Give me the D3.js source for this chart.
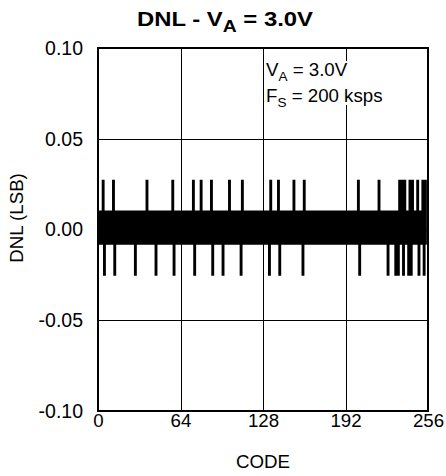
<!DOCTYPE html>
<html>
<head>
<meta charset="utf-8">
<script src="https://cdn.jsdelivr.net/npm/d3@7"></script>
<style>
  html, body { margin: 0; padding: 0; background: #fff; }
  svg { display: block; font-family: "Liberation Sans", Arial, sans-serif; }
</style>
</head>
<body>
<svg id="chart" width="446" height="476"></svg>
<script>
// ---- data ----
const xTicks = [0, 64, 128, 192, 256];
const xTickLabels = ["0", "64", "128", "192", "256"];
const yTicks = [0.10, 0.05, 0.00, -0.05, -0.10];
const yTickLabels = ["0.10", "0.05", "0.00", "-0.05", "-0.10"];
// DNL (LSB) for codes 0..255
const dnl = [
  0.010,-0.008, 0.010,-0.008, 0.027,-0.025, 0.010,-0.008, 0.010,-0.008, 0.010,-0.008, 0.027,-0.025, 0.010,-0.008,
  0.010,-0.008, 0.010,-0.008, 0.010,-0.008, 0.010,-0.008, 0.010,-0.008, 0.010,-0.008, 0.010,-0.025, 0.010,-0.008,
  0.010,-0.008, 0.010,-0.008, 0.010,-0.008, 0.027,-0.008, 0.010,-0.008, 0.010,-0.008, 0.010,-0.025, 0.010,-0.008,
  0.010,-0.008, 0.010,-0.008, 0.010,-0.008, 0.010,-0.008, 0.010,-0.008, 0.027,-0.025, 0.010,-0.008, 0.010,-0.008,
  0.010,-0.008, 0.010,-0.008, 0.010,-0.008, 0.010,-0.008, 0.010,-0.008, 0.027,-0.025, 0.010,-0.008, 0.010,-0.008,
  0.027,-0.008, 0.010,-0.008, 0.010,-0.008, 0.010,-0.008, 0.027,-0.025, 0.010,-0.008, 0.010,-0.008, 0.010,-0.008,
  0.010,-0.025, 0.010,-0.008, 0.010,-0.008, 0.027,-0.008, 0.010,-0.008, 0.010,-0.008, 0.010,-0.008, 0.010,-0.025,
  0.027,-0.008, 0.010,-0.008, 0.010,-0.008, 0.010,-0.008, 0.010,-0.008, 0.010,-0.008, 0.010,-0.008, 0.010,-0.008,
  0.010,-0.008, 0.010,-0.008, 0.010,-0.025, 0.027,-0.008, 0.010,-0.008, 0.010,-0.008, 0.027,-0.025, 0.010,-0.008,
  0.010,-0.008, 0.010,-0.008, 0.010,-0.008, 0.010,-0.008, 0.027,-0.008, 0.010,-0.008, 0.010,-0.008, 0.010,-0.025,
  0.027,-0.008, 0.010,-0.008, 0.010,-0.008, 0.010,-0.008, 0.010,-0.008, 0.010,-0.008, 0.010,-0.008, 0.010,-0.008,
  0.010,-0.008, 0.010,-0.008, 0.010,-0.008, 0.010,-0.008, 0.010,-0.008, 0.010,-0.008, 0.010,-0.008, 0.010,-0.008,
  0.010,-0.008, 0.010,-0.008, 0.010,-0.008, 0.010,-0.008, 0.010,-0.008, 0.027,-0.025, 0.010,-0.008, 0.010,-0.008,
  0.010,-0.008, 0.010,-0.008, 0.010,-0.008, 0.010,-0.008, 0.010,-0.008, 0.027,-0.008, 0.010,-0.008, 0.010,-0.008,
  0.010,-0.025, 0.010,-0.008, 0.010,-0.008, 0.010,-0.025, 0.010,-0.025, 0.027,-0.008, 0.027,-0.025, 0.027,-0.008,
  0.010,-0.025, 0.027,-0.025, 0.027,-0.008, 0.010,-0.008, 0.027,-0.025, 0.010,-0.008, 0.027,-0.025, 0.027,-0.008
];
const codes = dnl.map((d, i) => i);

// ---- layout ----
const W = 446, H = 476;
const m = { left: 98, right: 18, top: 48, bottom: 65 };
const iw = W - m.left - m.right, ih = H - m.top - m.bottom;
const FS = 18.7;

const svg = d3.select("#chart");
const x = d3.scaleLinear().domain([0, 256]).range([m.left, m.left + iw]);
const y = d3.scaleLinear().domain([-0.10, 0.10]).range([m.top + ih, m.top]);

// gridlines
const grid = svg.append("g").attr("stroke", "#000").attr("stroke-width", 1);
grid.selectAll("line.vx").data(xTicks.slice(1, -1)).join("line")
  .attr("x1", d => Math.round(x(d)) + 0.5).attr("x2", d => Math.round(x(d)) + 0.5)
  .attr("y1", m.top).attr("y2", m.top + ih);
grid.selectAll("line.hy").data(yTicks.slice(1, -1)).join("line")
  .attr("y1", d => Math.round(y(d)) + 0.5).attr("y2", d => Math.round(y(d)) + 0.5)
  .attr("x1", m.left).attr("x2", m.left + iw);

// data line
const line = d3.line().x((d, i) => x(codes[i])).y(d => y(d)).curve(d3.curveStep);
svg.append("path").datum(dnl)
  .attr("d", line)
  .attr("fill", "none").attr("stroke", "#000")
  .attr("stroke-width", 1.6).attr("stroke-linejoin", "miter");

// legend background + text
svg.append("rect").attr("x", x(128) + 2).attr("y", 61).attr("width", 130).attr("height", 44).attr("fill", "#fff");
const leg = svg.append("g").attr("font-size", 18.7).attr("fill", "#000");
const l1 = leg.append("text").attr("x", x(128) + 3).attr("y", 76);
l1.append("tspan").text("V");
l1.append("tspan").attr("font-size", 13.5).attr("dy", 5).text("A");
l1.append("tspan").attr("dy", -5).text(" = 3.0V");
const l2 = leg.append("text").attr("x", x(128) + 3).attr("y", 102);
l2.append("tspan").text("F");
l2.append("tspan").attr("font-size", 13.5).attr("dy", 5).text("S");
l2.append("tspan").attr("dy", -5).text(" = 200 ksps");

// border
svg.append("rect").attr("x", m.left).attr("y", m.top).attr("width", iw).attr("height", ih)
  .attr("fill", "none").attr("stroke", "#000").attr("stroke-width", 2);

// axes
const xAxis = d3.axisBottom(x).tickValues(xTicks).tickFormat((d, i) => xTickLabels[i]).tickSize(0).tickPadding(3);
const gx = svg.append("g").attr("transform", `translate(0,${m.top + ih})`).call(xAxis);
gx.select(".domain").remove();
gx.selectAll("text").attr("font-size", FS).attr("font-family", "Liberation Sans, Arial, sans-serif").attr("fill", "#000");

const yAxis = d3.axisLeft(y).tickValues(yTicks).tickFormat((d, i) => yTickLabels[i]).tickSize(0).tickPadding(15);
const gy = svg.append("g").attr("transform", `translate(${m.left},0)`).call(yAxis);
gy.select(".domain").remove();
gy.selectAll("text").attr("font-size", 19.5).attr("font-family", "Liberation Sans, Arial, sans-serif").attr("fill", "#000");

// axis titles
svg.append("text").attr("x", x(128)).attr("y", 468).attr("text-anchor", "middle")
  .attr("font-size", FS).text("CODE");
svg.append("text").attr("transform", `translate(23,218) rotate(-90)`).attr("text-anchor", "middle")
  .attr("font-size", FS).text("DNL (LSB)");

// title
const t = svg.append("text").attr("x", 225).attr("y", 26).attr("text-anchor", "middle")
  .attr("font-size", 21).attr("font-weight", "bold")
  .attr("textLength", 176).attr("lengthAdjust", "spacingAndGlyphs");
t.append("tspan").text("DNL - V");
t.append("tspan").attr("font-size", 17).attr("dy", 6).text("A");
t.append("tspan").attr("dy", -6).text(" = 3.0V");
</script>
</body>
</html>
